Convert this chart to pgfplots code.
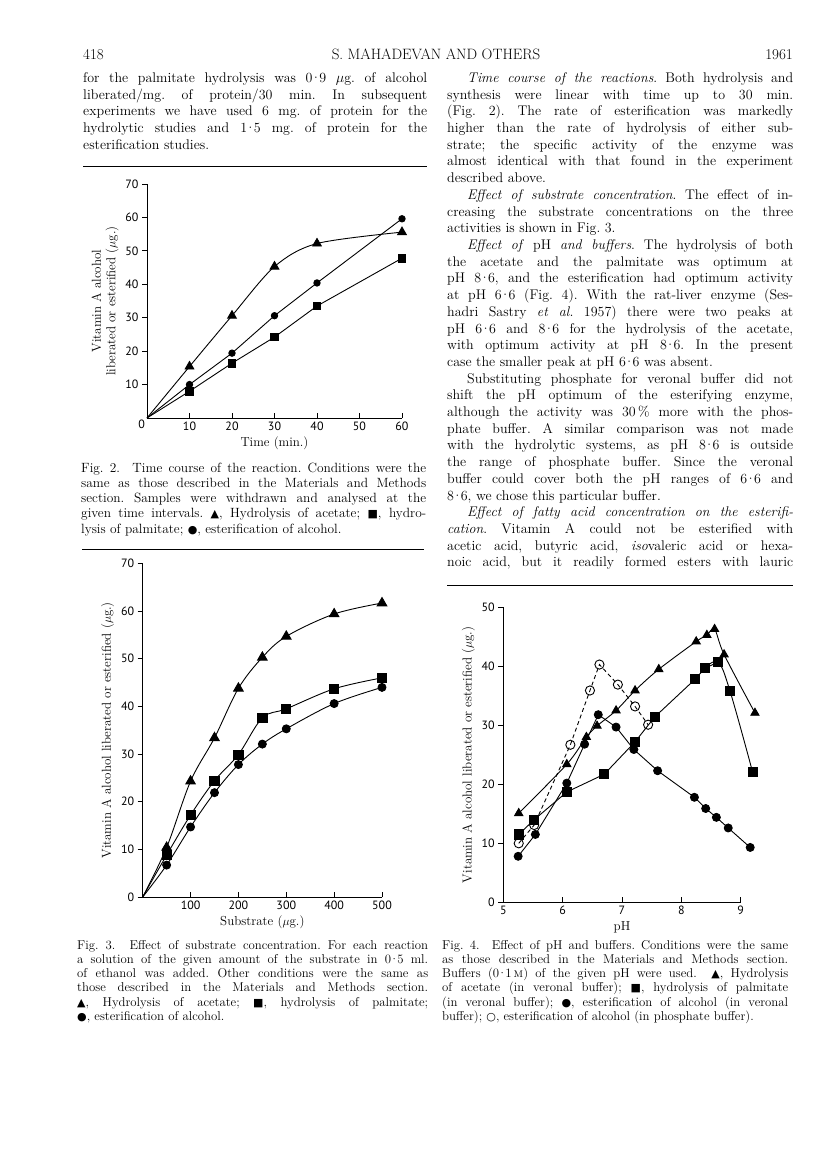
\documentclass[border=0pt]{standalone}
\usepackage{fontspec}
\usepackage{pgfplots}
\pgfplotsset{compat=1.18}
\newfontfamily\ptsans{PT Sans}
\newfontfamily\dv{DejaVu Sans}
\frenchspacing
\newcommand{\bodyfont}{\fontsize{14}{16.7}\selectfont}
\newcommand{\capfont}{\fontsize{12.8}{14.5}\selectfont}
\newcommand{\capfontb}{\fontsize{13.4}{15}\selectfont}
\newcommand{\pd}{\kern-0.14em\textperiodcentered\kern-0.14em}
\newcommand{\tri}{{\dv\fontsize{11}{11}\selectfont ▲}}
\newcommand{\sq}{{\dv\fontsize{11}{11}\selectfont ■}}
\newcommand{\dt}{{\dv\fontsize{11}{11}\selectfont ●}}
\newcommand{\oc}{{\dv\fontsize{11}{11}\selectfont ○}}
\newcommand{\bj}[4]{\node[anchor=base west,inner sep=0pt] at (#1,#2) {\bodyfont\makebox[#3pt][s]{#4}};}
\newcommand{\bn}[3]{\node[anchor=base west,inner sep=0pt] at (#1,#2) {\bodyfont #3};}
\newcommand{\cj}[4]{\node[anchor=base west,inner sep=0pt] at (#1,#2) {\capfont\makebox[#3pt][s]{#4}};}
\newcommand{\cn}[3]{\node[anchor=base west,inner sep=0pt] at (#1,#2) {\capfont #3};}
\newcommand{\fj}[4]{\node[anchor=base west,inner sep=0pt] at (#1,#2) {\capfontb\makebox[#3pt][s]{#4}};}
\newcommand{\fn}[3]{\node[anchor=base west,inner sep=0pt] at (#1,#2) {\capfontb #3};}
\pgfplotsset{scanax/.style={scale only axis, axis lines=left,
  axis line style={-,line width=0.9pt},
  tick style={line width=0.8pt,black}, major tick length=5pt,
  tick label style={font=\ptsans\fontsize{12}{12}\selectfont},
  /pgf/number format/assume math mode=true,
  label style={font=\fontsize{13}{14.5}\selectfont},
  xtick align=inside, ytick align=outside, clip=false,
  every axis plot/.append style={line width=0.9pt, black}}}
\begin{document}
\begin{tikzpicture}[x=1pt,y=-1pt]
\fill[white] (0,0) rectangle (816,1155);
\path[use as bounding box] (0,0) rectangle (816,1155);
% header
\node[anchor=base west,inner sep=0pt] at (83,60) {\fontsize{15}{16}\selectfont 418};
\node[anchor=base,inner sep=0pt] at (436,60) {\fontsize{15}{16}\selectfont\addfontfeature{LetterSpace=4}S. MAHADEVAN AND OTHERS};
\node[anchor=base east,inner sep=0pt] at (793,60) {\fontsize{15}{16}\selectfont 1961};
% left paragraph
\bj{83}{82.5}{344}{for the palmitate hydrolysis was 0\pd9 $\mu$g. of alcohol}
\bj{83}{99.2}{344}{liberated/mg. of protein/30 min. In subsequent}
\bj{83}{115.9}{344}{experiments we have used 6 mg. of protein for the}
\bj{83}{132.6}{344}{hydrolytic studies and 1\pd5 mg. of protein for the}
\bn{83}{149.3}{esterification studies.}
\draw[line width=0.8pt] (83,166) -- (427,166);
% right column
\bj{467}{82.5}{326}{\textit{Time course of the reactions}. Both hydrolysis and}
\bj{447}{99.2}{346}{synthesis were linear with time up to 30 min.}
\bj{447}{115.9}{346}{(Fig. 2). The rate of esterification was markedly}
\bj{447}{132.6}{346}{higher than the rate of hydrolysis of either sub-}
\bj{447}{149.3}{346}{strate; the specific activity of the enzyme was}
\bj{447}{166.0}{346}{almost identical with that found in the experiment}
\bn{447}{182.7}{described above.}
\bj{467}{199.4}{326}{\textit{Effect of substrate concentration}. The effect of in-}
\bj{447}{216.1}{346}{creasing the substrate concentrations on the three}
\bn{447}{232.8}{activities is shown in Fig. 3.}
\bj{467}{249.5}{326}{\textit{Effect of} pH \textit{and buffers}. The hydrolysis of both}
\bj{447}{266.2}{346}{the acetate and the palmitate was optimum at}
\bj{447}{282.9}{346}{pH 8\pd6, and the esterification had optimum activity}
\bj{447}{299.6}{346}{at pH 6\pd6 (Fig. 4). With the rat-liver enzyme (Ses-}
\bj{447}{316.3}{346}{hadri Sastry \textit{et al.} 1957) there were two peaks at}
\bj{447}{333.0}{346}{pH 6\pd6 and 8\pd6 for the hydrolysis of the acetate,}
\bj{447}{349.7}{346}{with optimum activity at pH 8\pd6. In the present}
\bn{447}{366.4}{case the smaller peak at pH 6\pd6 was absent.}
\bj{467}{383.1}{326}{Substituting phosphate for veronal buffer did not}
\bj{447}{399.8}{346}{shift the pH optimum of the esterifying enzyme,}
\bj{447}{416.5}{346}{although the activity was 30\,\% more with the phos-}
\bj{447}{433.2}{346}{phate buffer. A similar comparison was not made}
\bj{447}{449.9}{346}{with the hydrolytic systems, as pH 8\pd6 is outside}
\bj{447}{466.6}{346}{the range of phosphate buffer. Since the veronal}
\bj{447}{483.3}{346}{buffer could cover both the pH ranges of 6\pd6 and}
\bn{447}{500.0}{8\pd6, we chose this particular buffer.}
\bj{467}{516.7}{326}{\textit{Effect of fatty acid concentration on the esterifi-}}
\bj{447}{533.4}{346}{\textit{cation}. Vitamin A could not be esterified with}
\bj{447}{550.1}{346}{acetic acid, butyric acid, \textit{iso}valeric acid or hexa-}
\bj{447}{566.8}{346}{noic acid, but it readily formed esters with lauric}
\draw[line width=0.8pt] (447,585) -- (793,585);
% Fig 2 caption
\fj{81}{472}{345}{Fig. 2.\ \ Time course of the reaction. Conditions were the}
\fj{81}{487.3}{345}{same as those described in the Materials and Methods}
\fj{81}{502.6}{345}{section. Samples were withdrawn and analysed at the}
\fj{81}{517.9}{345}{given time intervals. \tri, Hydrolysis of acetate; \sq, hydro-}
\fn{81}{533.2}{lysis of palmitate; \dt, esterification of alcohol.}
\draw[line width=0.8pt] (82,549) -- (424,549);
% Fig 3 caption
\cj{77}{949}{351}{Fig. 3.\ \ Effect of substrate concentration. For each reaction}
\cj{77}{963.3}{351}{a solution of the given amount of the substrate in 0\pd5 ml.}
\cj{77}{977.6}{351}{of ethanol was added. Other conditions were the same as}
\cj{77}{991.9}{351}{those described in the Materials and Methods section.}
\cj{77}{1006.2}{351}{\tri, Hydrolysis of acetate; \sq, hydrolysis of palmitate;}
\cn{77}{1020.5}{\dt, esterification of alcohol.}
% Fig 4 caption
\cj{442}{949}{346}{Fig. 4.\ \ Effect of pH and buffers. Conditions were the same}
\cj{442}{963.3}{346}{as those described in the Materials and Methods section.}
\cj{442}{977.6}{346}{Buffers (0\pd1\,\textsc{m}) of the given pH were used. \ \tri, Hydrolysis}
\cj{442}{991.9}{346}{of acetate (in veronal buffer); \sq, hydrolysis of palmitate}
\cj{442}{1006.2}{346}{(in veronal buffer); \dt, esterification of alcohol (in veronal}
\cn{442}{1020.5}{buffer); \oc, esterification of alcohol (in phosphate buffer).}

% ---------- Fig 2 ----------
\begin{axis}[scanax, at={(147pt,-418pt)}, anchor=south west,
  width=255pt, height=234pt, xmin=0, xmax=60, ymin=0, ymax=70,
  xtick={10,20,30,40,50,60}, ytick={10,20,30,40,50,60,70},
  xlabel={Time (min.)},
  ylabel={Vitamin A alcohol\\liberated or esterified ($\mu$g.)},
  ylabel style={align=center}]
\addplot[smooth, tension=0.5, no marks] coordinates {(0,0) (10,15.4) (20,30.6) (30,45.3) (40,52.2) (60,55.6)};
\addplot[only marks, mark=triangle*, mark size=5pt] coordinates {(10,15.4) (20,30.6) (30,45.3) (40,52.2) (60,55.6)};
\addplot[no marks] coordinates {(0,0) (10,8.0) (20,16.4) (30,24.2) (40,33.5) (60,47.8)};
\addplot[only marks, mark=square*, mark size=3.8pt] coordinates {(10,8.0) (20,16.4) (30,24.2) (40,33.5) (60,47.8)};
\addplot[no marks] coordinates {(0,0) (10,10.0) (20,19.4) (30,30.6) (40,40.4) (60,59.6)};
\addplot[only marks, mark=*, mark size=3.2pt] coordinates {(10,10.0) (20,19.4) (30,30.6) (40,40.4) (60,59.6)};
\node[font=\ptsans\fontsize{12}{12}\selectfont, anchor=north east, inner sep=2pt] at (axis cs:0,0) {0};
\end{axis}

% ---------- Fig 3 ----------
\begin{axis}[scanax, at={(142.7pt,-897pt)}, anchor=south west,
  width=239.3pt, height=333.5pt, xmin=0, xmax=500, ymin=0, ymax=70,
  xtick={100,200,300,400,500}, ytick={0,10,20,30,40,50,60,70},
  xlabel={Substrate ($\mu$g.)},
  ylabel={Vitamin A alcohol liberated or esterified ($\mu$g.)}]
\addplot[smooth, tension=0.55, no marks] coordinates {(0,0) (50,10.4) (100,24.3) (150,33.4) (200,43.8) (250,50.3) (300,54.7) (400,59.4) (500,61.7)};
\addplot[only marks, mark=triangle*, mark size=5.5pt] coordinates {(50,10.4) (100,24.3) (150,33.4) (200,43.8) (250,50.3) (300,54.7) (400,59.4) (500,61.7)};
\addplot[smooth, tension=0.55, no marks] coordinates {(0,0) (50,8.8) (100,17.2) (150,24.4) (200,29.9) (250,37.6) (300,39.5) (400,43.7) (500,46.0)};
\addplot[only marks, mark=square*, mark size=4.6pt] coordinates {(50,8.8) (100,17.2) (150,24.4) (200,29.9) (250,37.6) (300,39.5) (400,43.7) (500,46.0)};
\addplot[smooth, tension=0.55, no marks] coordinates {(0,0) (50,6.7) (100,14.7) (150,21.9) (200,27.8) (250,32.1) (300,35.3) (400,40.6) (500,44.0)};
\addplot[only marks, mark=*, mark size=4pt] coordinates {(50,6.7) (100,14.7) (150,21.9) (200,27.8) (250,32.1) (300,35.3) (400,40.6) (500,44.0)};
\end{axis}

% ---------- Fig 4 ----------
\begin{axis}[scanax, at={(503.3pt,-902.3pt)}, anchor=south west,
  width=237.4pt, height=295pt, xmin=5, xmax=9, ymin=0, ymax=50,
  xtick={5,6,7,8,9}, ytick={0,10,20,30,40,50},
  xlabel={pH},
  ylabel={Vitamin A alcohol liberated or esterified ($\mu$g.)}]
% open circles, phosphate buffer
\addplot[dashed, dash pattern=on 4pt off 3pt, mark=o, mark size=4.6pt, mark options={solid, fill=white, line width=0.9pt}] coordinates {(5.26,10.0) (5.52,13.1) (6.13,26.7) (6.46,35.9) (6.62,40.3) (6.93,36.9) (7.22,33.2) (7.44,30.1)};
% triangles, acetate
\addplot[smooth, tension=0.5, no marks] coordinates {(5.26,15.1) (6.07,23.4) (6.4,28.0) (6.58,29.9) (6.9,32.5) (7.22,35.9) (7.62,39.5) (8.25,44.2) (8.43,45.3) (8.56,46.3) (8.72,42.0) (9.24,32.1)};
\addplot[only marks, mark=triangle*, mark size=4.7pt] coordinates {(5.26,15.1) (6.07,23.4) (6.4,28.0) (6.58,29.9) (6.9,32.5) (7.22,35.9) (7.62,39.5) (8.25,44.2) (8.43,45.3) (8.56,46.3) (8.72,42.0) (9.24,32.1)};
% squares, palmitate
\addplot[no marks] coordinates {(5.26,11.5) (5.52,14.0) (6.07,18.7) (6.7,21.7) (7.22,27.2) (7.55,31.4) (8.23,37.8) (8.4,39.7) (8.62,40.7)};
\addplot[smooth, tension=0.6, no marks] coordinates {(8.4,39.7) (8.62,40.7) (8.82,35.8) (9.2,22.1)};
\addplot[only marks, mark=square*, mark size=4.6pt] coordinates {(5.26,11.5) (5.52,14.0) (6.07,18.7) (6.7,21.7) (7.22,27.2) (7.55,31.4) (8.23,37.8) (8.4,39.7) (8.62,40.7) (8.82,35.8) (9.2,22.1)};
% filled circles, veronal
\addplot[mark=*, mark size=4pt] coordinates {(5.25,7.8) (5.54,11.5) (6.07,20.2) (6.37,26.8) (6.6,31.8) (6.9,29.7) (7.2,25.9) (7.6,22.3) (8.22,17.8) (8.41,15.9) (8.59,14.4) (8.79,12.6) (9.16,9.3)};
\end{axis}
\end{tikzpicture}
\end{document}
